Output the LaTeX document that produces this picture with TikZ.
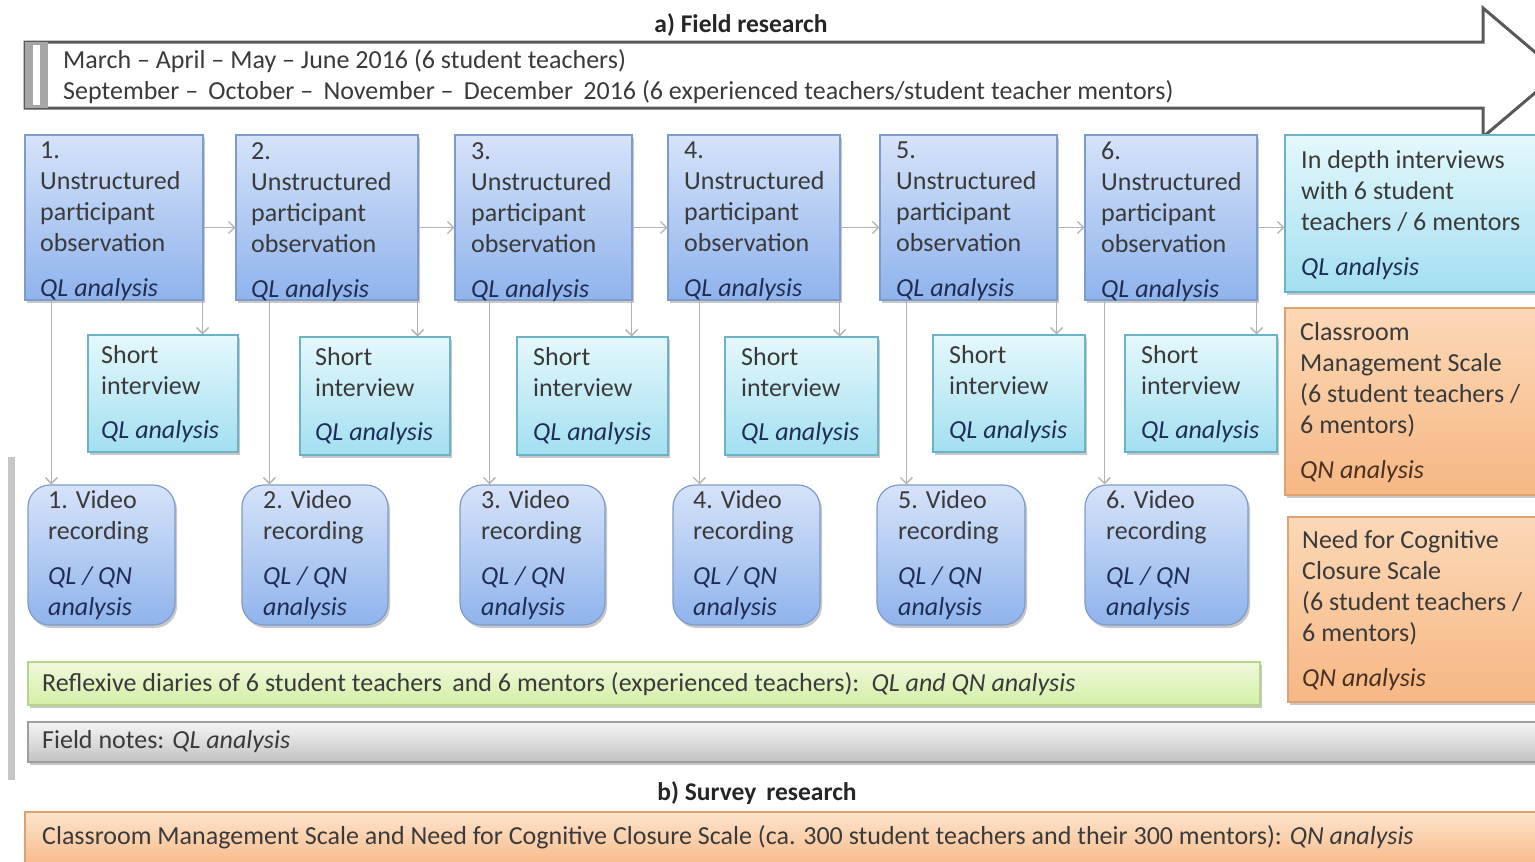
\documentclass[tikz,border=0pt]{standalone}
\usepackage{fontspec}
\setmainfont{Carlito}
\usetikzlibrary{arrows.meta,shadows,fit,calc}
\definecolor{obsT}{HTML}{D6E3F9}
\definecolor{obsB}{HTML}{8FB3EC}
\definecolor{obsD}{HTML}{7D9BCB}
\definecolor{cyT}{HTML}{E4F8FC}
\definecolor{cyB}{HTML}{A3DFF0}
\definecolor{cyD}{HTML}{6DB3C8}
\definecolor{orT}{HTML}{FCD8B6}
\definecolor{orB}{HTML}{F6B784}
\definecolor{orD}{HTML}{DDA272}
\definecolor{grT}{HTML}{EFF9DC}
\definecolor{grB}{HTML}{D3EFA6}
\definecolor{grD}{HTML}{B5D58A}
\definecolor{gyT}{HTML}{F5F5F5}
\definecolor{gyB}{HTML}{C2C2C2}
\definecolor{gyD}{HTML}{9E9E9E}
\definecolor{txtc}{HTML}{3A3A3A}
\definecolor{navy}{HTML}{1E2D55}
\definecolor{brn}{HTML}{4A3020}
\newcommand\QLa{\textit{\color{navy}QL analysis}}
\newcommand\QNa{\textit{\color{brn}QN analysis}}
\newcommand\QLQN{\textit{\color{navy}QL / QN}\\\textit{\color{navy}analysis}}
\tikzset{
  base/.style={inner sep=0pt, line width=1.2pt,
    drop shadow={shadow xshift=2pt,shadow yshift=-3pt,opacity=0.3,fill=black!70}},
  obsbox/.style={base, draw=obsD, top color=obsT, bottom color=obsB},
  vidbox/.style={obsbox, rounded corners=22pt},
  cybox/.style={base, draw=cyD, top color=cyT, bottom color=cyB},
  orbox/.style={base, draw=orD, top color=orT, bottom color=orB},
  grbox/.style={base, draw=grD, top color=grT, bottom color=grB},
  gybox/.style={base, draw=gyD, top color=gyT, bottom color=gyB},
  txt/.style={anchor=north west, align=left, inner sep=0pt,
    font=\fontsize{26}{31}\selectfont, text=txtc},
  ltxt/.style={anchor=west, inner sep=0pt, font=\fontsize{26}{31}\selectfont, text=txtc},
  ttl/.style={inner sep=0pt, font=\fontsize{25.5}{30}\selectfont\bfseries, text=black!85},
  conn/.style={draw=gray!60, line width=1.3pt, -{Straight Barb[length=6pt,width=12pt]}},
}
\begin{document}
\begin{tikzpicture}[x=1pt,y=-1pt]
\useasboundingbox (0,0) rectangle (1535,862);
\clip (0,0) rectangle (1535,862);
\fill[white] (0,0) rectangle (1535,862);

% title
\node[ttl] (ta) at (741,25) {a) Field research};

% big timeline arrow
\draw[draw=gray!70!black, line width=3pt, fill=white, line join=miter]
  (25,42) -- (1483,42) -- (1483,8) -- (1559,72.5) -- (1483,137) -- (1483,108) -- (25,108) -- cycle;
\fill[gray!70] (25,42) rectangle (48,108);
\fill[white] (33,45) rectangle (40,105);
\node[ltxt] (m1) at (63,61) {March -- April -- May -- June 2016 (6 student teachers)};
\node[ltxt] (m2) at (63,92) {September --\, October --\, November --\, December\, 2016 (6 experienced teachers/student teacher mentors)};

% left side bar
\fill[gray!45] (8,457) rectangle (15,780);

% observation boxes
\node[obsbox, fit={(25,135) (203,300)}] (o1) {};
\node[obsbox, fit={(236,135) (418,300)}] (o2) {};
\node[obsbox, fit={(455,135) (632,300)}] (o3) {};
\node[obsbox, fit={(668,135) (840,300)}] (o4) {};
\node[obsbox, fit={(880,135) (1057,300)}] (o5) {};
\node[obsbox, fit={(1085,135) (1257,300)}] (o6) {};
\node[txt] (o1t) at (40,142) {1.\\Unstructured\\participant\\observation\\[14pt]\QLa};
\node[txt] (o2t) at (251,142) {2.\\Unstructured\\participant\\observation\\[14pt]\QLa};
\node[txt] (o3t) at (471,142) {3.\\Unstructured\\participant\\observation\\[14pt]\QLa};
\node[txt] (o4t) at (684,142) {4.\\Unstructured\\participant\\observation\\[14pt]\QLa};
\node[txt] (o5t) at (896,142) {5.\\Unstructured\\participant\\observation\\[14pt]\QLa};
\node[txt] (o6t) at (1101,142) {6.\\Unstructured\\participant\\observation\\[14pt]\QLa};

% short interview boxes
\node[cybox, fit={(88,335) (238,452)}] (s1) {};
\node[cybox, fit={(300,337) (450,455)}] (s2) {};
\node[cybox, fit={(517,337) (668,455)}] (s3) {};
\node[cybox, fit={(725,337) (878,455)}] (s4) {};
\node[cybox, fit={(933,335) (1085,452)}] (s5) {};
\node[cybox, fit={(1125,335) (1277,452)}] (s6) {};
\node[txt] (s1t) at (101,345) {Short\\interview\\[13pt]\QLa};
\node[txt] (s2t) at (315,347) {Short\\interview\\[13pt]\QLa};
\node[txt] (s3t) at (533,347) {Short\\interview\\[13pt]\QLa};
\node[txt] (s4t) at (741,347) {Short\\interview\\[13pt]\QLa};
\node[txt] (s5t) at (949,345) {Short\\interview\\[13pt]\QLa};
\node[txt] (s6t) at (1141,345) {Short\\interview\\[13pt]\QLa};

% video boxes
\node[vidbox, fit={(28,485) (175,625)}] (v1) {};
\node[vidbox, fit={(242,485) (388,625)}] (v2) {};
\node[vidbox, fit={(460,485) (605,625)}] (v3) {};
\node[vidbox, fit={(673,485) (820,625)}] (v4) {};
\node[vidbox, fit={(877,485) (1025,625)}] (v5) {};
\node[vidbox, fit={(1085,485) (1248,625)}] (v6) {};
\node[txt] (v1t) at (48,490) {1. Video\\recording\\[14pt]\QLQN};
\node[txt] (v2t) at (263,490) {2. Video\\recording\\[14pt]\QLQN};
\node[txt] (v3t) at (481,490) {3. Video\\recording\\[14pt]\QLQN};
\node[txt] (v4t) at (693,490) {4. Video\\recording\\[14pt]\QLQN};
\node[txt] (v5t) at (898,490) {5. Video\\recording\\[14pt]\QLQN};
\node[txt] (v6t) at (1106,490) {6. Video\\recording\\[14pt]\QLQN};

% right column
\node[cybox, fit={(1285,135) (1545,292)}] (id) {};
\node[txt] (idt) at (1301,150) {In depth interviews\\with 6 student\\teachers / 6 mentors\\[14pt]\QLa};
\node[orbox, fit={(1285,308) (1545,495)}] (cms) {};
\node[txt] (cmst) at (1300,322) {Classroom\\Management Scale\\(6 student teachers /\\6 mentors)\\[14pt]\QNa};
\node[orbox, fit={(1288,517) (1545,702)}] (ncc) {};
\node[txt] (ncct) at (1302,530) {Need for Cognitive\\Closure Scale\\(6 student teachers /\\6 mentors)\\[14pt]\QNa};

% long bars
\node[grbox, fit={(28,662) (1260,705)}] (rd) {};
\node[ltxt] (rdt) at (42,684) {Reflexive diaries of 6 student teachers\, and 6 mentors (experienced teachers):\, \textit{QL and QN analysis}};
\node[gybox, fit={(28,722) (1545,762)}] (fn) {};
\node[ltxt] (fnt) at (42,742) {Field notes: \textit{QL analysis}};
\node[ttl] (tb) at (757,793) {b) Survey\, research};
\node[orbox, top color=orT!70, fit={(25,812) (1545,870)}] (sv) {};
\node[ltxt] (svt) at (42,837) {Classroom Management Scale and Need for Cognitive Closure Scale (ca. 300 student teachers and their 300 mentors): \textit{QN analysis}};

% horizontal connectors
\draw[conn] ($(o1.east)+(0,10)$) -- ($(o2.west)+(0,10)$);
\draw[conn] ($(o2.east)+(0,10)$) -- ($(o3.west)+(0,10)$);
\draw[conn] ($(o3.east)+(0,10)$) -- ($(o4.west)+(0,10)$);
\draw[conn] ($(o4.east)+(0,10)$) -- ($(o5.west)+(0,10)$);
\draw[conn] ($(o5.east)+(0,10)$) -- ($(o6.west)+(0,10)$);
\coordinate (h6) at ($(o6.east)+(0,10)$);
\draw[conn] (h6) -- (h6 -| id.west);

% to short interviews
\foreach \i in {1,...,6}{
  \draw[conn] ([xshift=-1pt]o\i.south east) -- ([xshift=-1pt]o\i.south east |- s\i.north);
}
% to video
\coordinate (d1) at ($(o1.south west)+(27,0)$);
\coordinate (d2) at ($(o2.south west)+(34,0)$);
\coordinate (d3) at ($(o3.south west)+(35,0)$);
\coordinate (d4) at ($(o4.south west)+(32,0)$);
\coordinate (d5) at ($(o5.south west)+(27,0)$);
\coordinate (d6) at ($(o6.south west)+(20,0)$);
\foreach \i in {1,...,6}{
  \draw[conn] (d\i) -- (d\i |- v\i.north);
}
\end{tikzpicture}
\end{document}
